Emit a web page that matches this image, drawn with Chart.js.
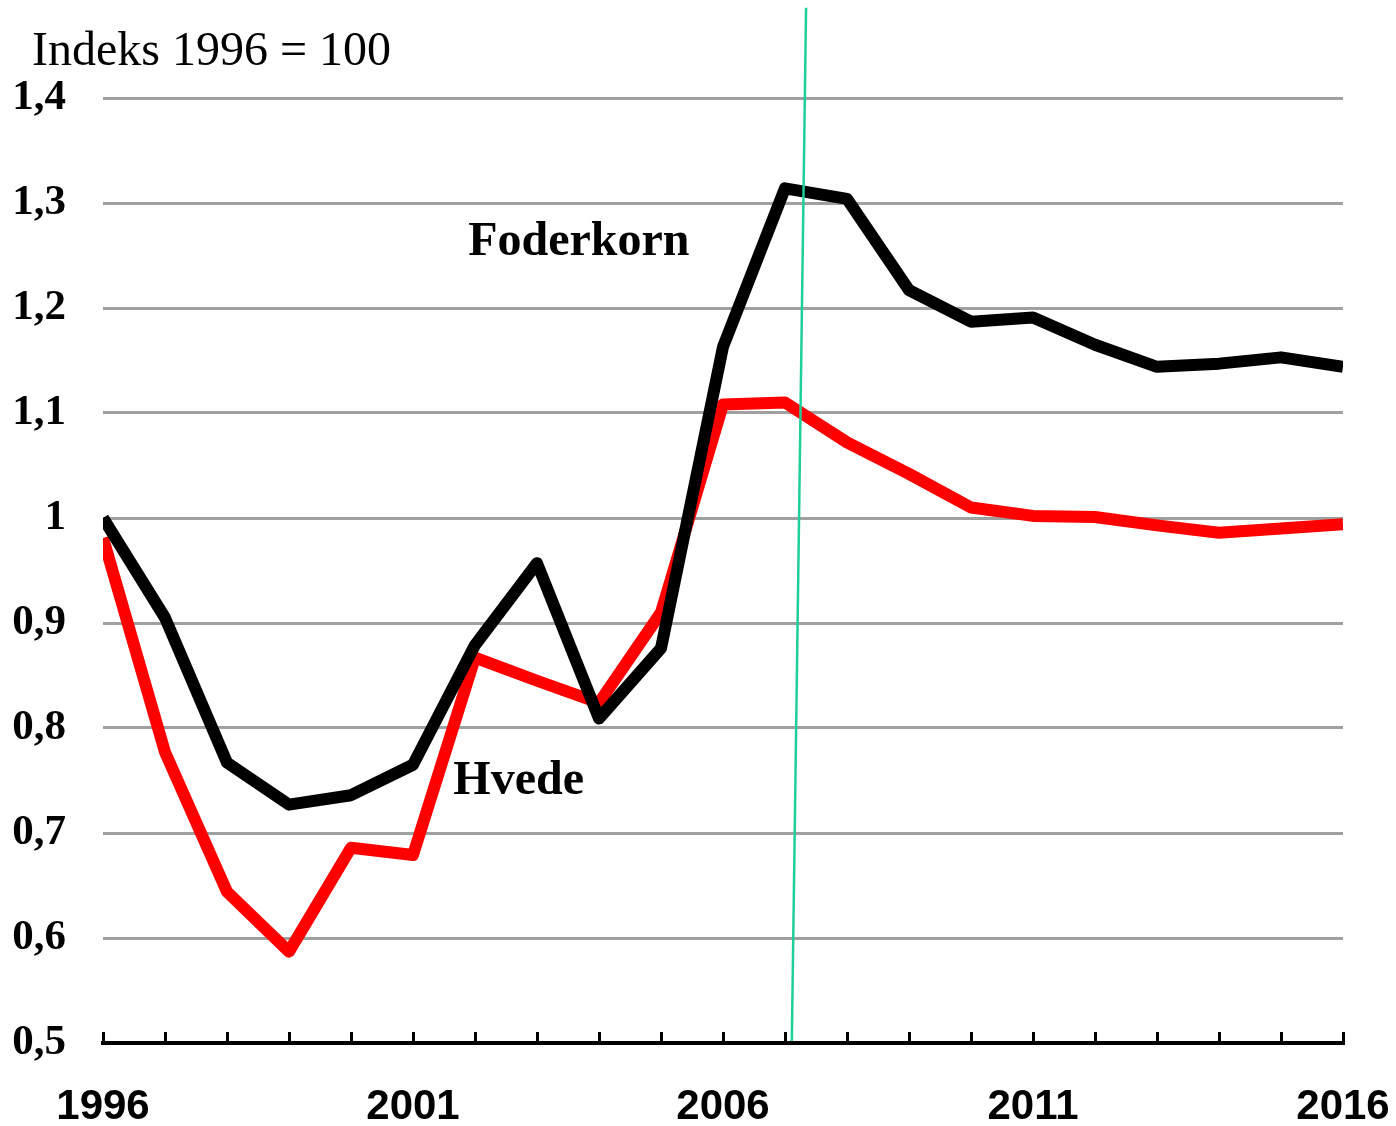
<!DOCTYPE html>
<html>
<head>
<meta charset="utf-8">
<script src="https://cdn.jsdelivr.net/npm/chart.js@4.4.0/dist/chart.umd.min.js"></script>
<style>
  html, body { margin: 0; padding: 0; background: #fff; }
  #wrap { width: 1396px; height: 1126px; position: relative; }
</style>
</head>
<body>
<div id="wrap"><canvas id="chart"></canvas></div>
<script>
// ═══ DATA ═══
const years = [1996, 1997, 1998, 1999, 2000, 2001, 2002, 2003, 2004, 2005, 2006,
               2007, 2008, 2009, 2010, 2011, 2012, 2013, 2014, 2015, 2016];
const foderkorn = [1.000, 0.905, 0.767, 0.727, 0.736, 0.765, 0.879, 0.957, 0.809, 0.876, 1.163,
                   1.314, 1.304, 1.217, 1.187, 1.191, 1.165, 1.144, 1.147, 1.153, 1.144];
const hvede = [0.981, 0.777, 0.644, 0.587, 0.686, 0.679, 0.867, 0.845, 0.824, 0.910, 1.108,
               1.110, 1.072, 1.042, 1.010, 1.002, 1.001, 0.993, 0.986, 0.990, 0.994];
const labelYears = [1996, 2001, 2006, 2011, 2016];

// the hand-drawn green marker line (x in years, y in index)
const markerX = [2007.34, 2007.11];
const markerY = [1.486, 0.502];

const seriesLabels = [
  { text: 'Foderkorn', x: 2001.89, y: 1.2505 },
  { text: 'Hvede', x: 2001.65, y: 0.737 }
];
const titleText = 'Indeks 1996 = 100';

const toPoints = (xs, ys) => xs.map((x, i) => ({ x: x, y: ys[i] }));

// ═══ TEXT PLUGIN ═══
const textPlugin = {
  id: 'texts',
  afterDraw(chart) {
    const { ctx, scales } = chart;
    ctx.save();
    ctx.fillStyle = '#000';
    ctx.textBaseline = 'alphabetic';
    ctx.textAlign = 'left';
    ctx.font = '48px "Liberation Serif", "Times New Roman", serif';
    ctx.fillText(titleText, 32, 65);
    ctx.font = 'bold 48px "Liberation Serif", "Times New Roman", serif';
    seriesLabels.forEach(l => {
      ctx.fillText(l.text, scales.x.getPixelForValue(l.x), scales.y.getPixelForValue(l.y));
    });
    ctx.restore();
  }
};

// ═══ CHART ═══
new Chart(document.getElementById('chart'), {
  type: 'line',
  data: {
    datasets: [
      {
        label: 'marker',
        data: toPoints(markerX, markerY),
        borderColor: '#1fcf9a',
        borderWidth: 2.5,
        pointRadius: 0,
        clip: false
      },
      {
        label: 'Foderkorn',
        data: toPoints(years, foderkorn),
        borderColor: '#000',
        borderWidth: 12,
        borderJoinStyle: 'round',
        pointRadius: 0
      },
      {
        label: 'Hvede',
        data: toPoints(years, hvede),
        borderColor: '#ff0000',
        borderWidth: 12,
        borderJoinStyle: 'round',
        pointRadius: 0
      }
    ]
  },
  options: {
    responsive: true,
    maintainAspectRatio: false,
    animation: false,
    layout: { padding: { top: 98, right: 53, left: 0, bottom: 0 } },
    plugins: {
      legend: { display: false },
      tooltip: { enabled: false }
    },
    scales: {
      x: {
        type: 'linear',
        min: 1996,
        max: 2016,
        grid: {
          drawOnChartArea: false,
          color: '#000',
          lineWidth: 3,
          tickLength: -11
        },
        border: { display: true, color: '#000', width: 4 },
        ticks: {
          stepSize: 1,
          autoSkip: false,
          maxRotation: 0,
          maxTicksLimit: 30,
          padding: 50,
          color: '#000',
          font: { family: '"Liberation Sans", Arial, sans-serif', size: 42, weight: 'bold' },
          callback: v => labelYears.includes(v) ? String(v) : ''
        },
        afterFit: s => {
          s.height = 83;
          s.paddingLeft = 0;
          s.paddingRight = 0;
        }
      },
      y: {
        min: 0.5,
        max: 1.4,
        grid: { color: '#a0a0a0', lineWidth: 3, drawTicks: false },
        border: { display: false },
        ticks: {
          stepSize: 0.1,
          padding: 37,
          color: '#000',
          font: { family: '"Liberation Serif", "Times New Roman", serif', size: 43, weight: 'bold' },
          callback: v => (Math.round(v * 10) / 10).toString().replace('.', ',')
        },
        afterFit: s => { s.width = 103; }
      }
    }
  },
  plugins: [textPlugin]
});
</script>
</body>
</html>
